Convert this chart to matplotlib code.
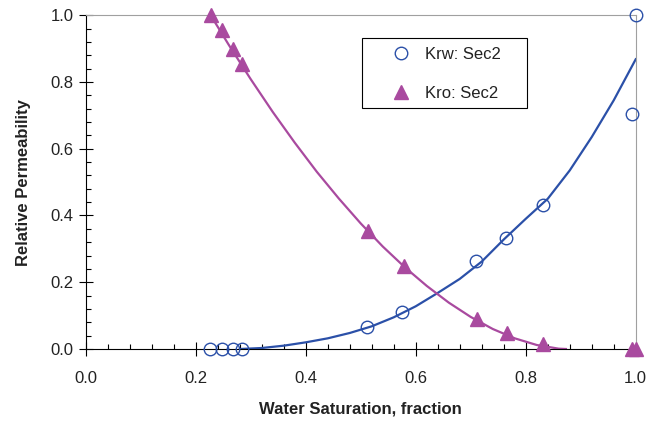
"""Relative permeability curves (Sec2): Krw / Kro vs water saturation."""

import matplotlib
matplotlib.use("Agg")
import matplotlib.pyplot as plt
from matplotlib.patches import Rectangle
from matplotlib.ticker import MultipleLocator

plt.rcParams["font.family"] = ["Liberation Sans", "DejaVu Sans"]

# ---------------------------------------------------------------------------
# Data
# ---------------------------------------------------------------------------
krw_sw = [0.225, 0.247, 0.267, 0.284, 0.511, 0.575, 0.709, 0.764, 0.831, 0.993, 1.0]
krw_pts = [0.0, 0.0, 0.0, 0.0, 0.066, 0.111, 0.263, 0.332, 0.431, 0.704, 1.0]

kro_sw = [0.227, 0.247, 0.267, 0.284, 0.513, 0.578, 0.711, 0.765, 0.831, 0.993, 1.0]
kro_pts = [1.0, 0.955, 0.898, 0.853, 0.353, 0.248, 0.090, 0.048, 0.015, 0.0, 0.0]

# fitted curves as drawn in the picture
krw_fit_sw = [0.28, 0.32, 0.36, 0.40, 0.44, 0.48, 0.52, 0.56, 0.60, 0.64,
              0.68, 0.72, 0.76, 0.80, 0.84, 0.88, 0.92, 0.96, 1.0]
krw_fit = [0.0, 0.003, 0.010, 0.020, 0.032, 0.048, 0.068, 0.095, 0.128, 0.168,
           0.210, 0.262, 0.328, 0.390, 0.450, 0.535, 0.635, 0.745, 0.868]

kro_fit_sw = [0.227, 0.26, 0.30, 0.34, 0.38, 0.42, 0.46, 0.50, 0.54, 0.58,
              0.62, 0.66, 0.70, 0.74, 0.78, 0.82, 0.86, 0.873]
kro_fit = [1.0, 0.911, 0.808, 0.710, 0.618, 0.531, 0.451, 0.376, 0.307, 0.245,
           0.189, 0.139, 0.096, 0.060, 0.032, 0.012, 0.001, 0.0]

BLUE = "#2b50a8"
MAGENTA = "#a94a9f"

# ---------------------------------------------------------------------------
# Plot
# ---------------------------------------------------------------------------
fig = plt.figure(figsize=(6.65, 4.21), dpi=100)
ax = fig.add_axes([0.129, 0.171, 0.827, 0.793])

ax.plot(krw_fit_sw, krw_fit, color=BLUE, linewidth=1.6, zorder=2)
ax.plot(kro_fit_sw, kro_fit, color=MAGENTA, linewidth=1.6, zorder=2)

ax.plot(krw_sw, krw_pts, "o", markersize=9, markerfacecolor="none",
        markeredgecolor=BLUE, markeredgewidth=1.0, linestyle="none",
        label="Krw: Sec2", clip_on=False, zorder=3)
ax.plot(kro_sw, kro_pts, "^", markersize=10.5, color=MAGENTA, linestyle="none",
        label="Kro: Sec2", clip_on=False, zorder=3)

ax.set_xlim(0, 1.0)
ax.set_ylim(0, 1.0)
ax.xaxis.set_major_locator(MultipleLocator(0.2))
ax.xaxis.set_minor_locator(MultipleLocator(0.04))
ax.yaxis.set_major_locator(MultipleLocator(0.2))
ax.yaxis.set_minor_locator(MultipleLocator(0.04))
ax.xaxis.set_major_formatter(lambda v, p: f"{v:.1f}")
ax.yaxis.set_major_formatter(lambda v, p: f"{v:.1f}")

ax.tick_params(which="major", direction="inout", length=10, width=0.8,
               labelsize=12, labelcolor="#222222")
ax.tick_params(axis="x", which="major", pad=10.5)
ax.tick_params(axis="y", which="major", pad=4)
ax.tick_params(which="minor", direction="in", length=3.6, width=0.8)

for side in ("top", "right"):
    ax.spines[side].set_color("#a0a0a0")
for side in ("left", "bottom"):
    ax.spines[side].set_color("black")

ax.set_xlabel("Water Saturation, fraction", fontsize=12, fontweight="bold",
              labelpad=11.5, color="#222222")
ax.set_ylabel("Relative Permeability", fontsize=12, fontweight="bold",
              labelpad=13.5, color="#222222")

# legend: contents without frame, box drawn as its own rectangle
leg = ax.legend(loc="center", bbox_to_anchor=(0.649, 0.823),
                fontsize=12, frameon=False, handletextpad=0.4,
                labelspacing=1.45, borderpad=0.2, handlelength=2.0)
for t in leg.get_texts():
    t.set_color("#222222")
ax.add_patch(Rectangle((0.502, 0.7216), 0.300, 0.2094, transform=ax.transAxes,
                       fill=False, edgecolor="black", linewidth=0.8, zorder=4))

fig.savefig("out.png", dpi=100)
